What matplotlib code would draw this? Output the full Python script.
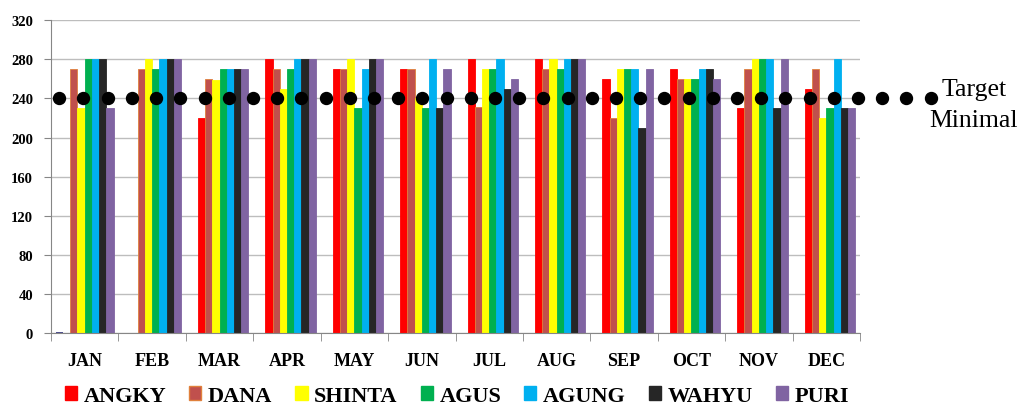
import numpy as np
import matplotlib.pyplot as plt
from matplotlib.patches import Patch

#=====DATA================#
months = ["JAN", "FEB", "MAR", "APR", "MAY", "JUN", "JUL", "AUG", "SEP", "OCT", "NOV", "DEC"]
names = ["ANGKY", "DANA", "SHINTA", "AGUS", "AGUNG", "WAHYU", "PURI"]
colors = ["#FF0000", "#C0504D", "#FFFF00", "#00B050", "#00B0F0", "#262626", "#8064A2"]

angky  = [0, 0, 220, 280, 270, 270, 280, 280, 260, 270, 230, 250]
dana   = [270, 270, 260, 270, 270, 270, 231, 270, 220, 260, 270, 270]
shinta = [230, 280, 259, 250, 280, 240, 270, 280, 270, 260, 280, 220]
agus   = [280, 270, 270, 270, 230, 230, 270, 270, 270, 260, 280, 230]
agung  = [280, 280, 270, 280, 270, 280, 280, 280, 270, 270, 280, 280]
wahyu  = [280, 280, 270, 280, 280, 230, 250, 280, 210, 270, 230, 230]
puri   = [230, 280, 270, 280, 280, 270, 260, 280, 270, 260, 280, 230]
series = [angky, dana, shinta, agus, agung, wahyu, puri]

# leading (unlabelled) series, only a sliver in JAN
blank = [1.5, 0, 0, 0, 0, 0, 0, 0, 0, 0, 0, 0]

target = 240        # Target Minimal
n_target_dots = 37
#=========================#

plt.rcParams['font.family'] = ['Liberation Serif', 'DejaVu Serif']

fig = plt.figure(figsize=(10.21, 4.06), dpi=100)
ax = fig.add_axes([51/1021, 1-334/406, 809/1021, 312.7/406])

x = np.arange(len(months))
w = 0.107
nslots = 8
ax.bar(x - nslots/2*w + 0.5*w, blank, width=w, color="#4F4F8F", zorder=2)
for i, (vals, col) in enumerate(zip(series, colors)):
    ec = "#E0803C" if i == 1 else col
    ax.bar(x - nslots/2*w + (i+1.5)*w, vals, width=w, color=col,
           edgecolor=ec, linewidth=0.6, zorder=2)

# target dots run past the plot area
tx = np.linspace(-0.377, -0.377 + 0.359*(n_target_dots-1), n_target_dots)
ax.plot(tx, [target]*n_target_dots, 'o', color='black', markersize=8.6,
        clip_on=False, zorder=3)
fig.text(974/1021, 1-96/406, "Target", ha='center', va='baseline', fontsize=18.5)
fig.text(974/1021, 1-127/406, "Minimal", ha='center', va='baseline', fontsize=18.5)

ax.set_xlim(-0.5, 11.5)
ax.set_ylim(0, 320)
ax.set_yticks(np.arange(0, 321, 40))
ax.grid(axis='y', color='#BDBDBD', linewidth=1.0, zorder=0)
ax.set_axisbelow(True)

ax.set_xticks(x)
ax.set_xticklabels(months, fontsize=13, fontweight='bold')
ax.set_xticks(np.arange(-0.5, 12, 1), minor=True)
ax.tick_params(axis='x', which='major', length=0, pad=14)
ax.tick_params(axis='x', which='minor', length=6, color='#868686', direction='out')
ax.tick_params(axis='y', length=5, color='#868686', pad=8, labelsize=10.5)
for lab in ax.get_yticklabels():
    lab.set_fontweight('bold')

for s in ['top', 'right']:
    ax.spines[s].set_visible(False)
for s in ['left', 'bottom']:
    ax.spines[s].set_color('#868686')

handles = [Patch(facecolor=c, edgecolor=("#E0803C" if i == 1 else c))
           for i, c in enumerate(colors)]
fig.legend(handles, names, ncol=7, loc='center', bbox_to_anchor=(457/1021, 1-397/406),
           frameon=False, prop={'weight': 'bold', 'size': 16},
           handlelength=0.55, handleheight=0.6, handletextpad=0.3, columnspacing=1.03)

fig.savefig("out.png", dpi=100)
